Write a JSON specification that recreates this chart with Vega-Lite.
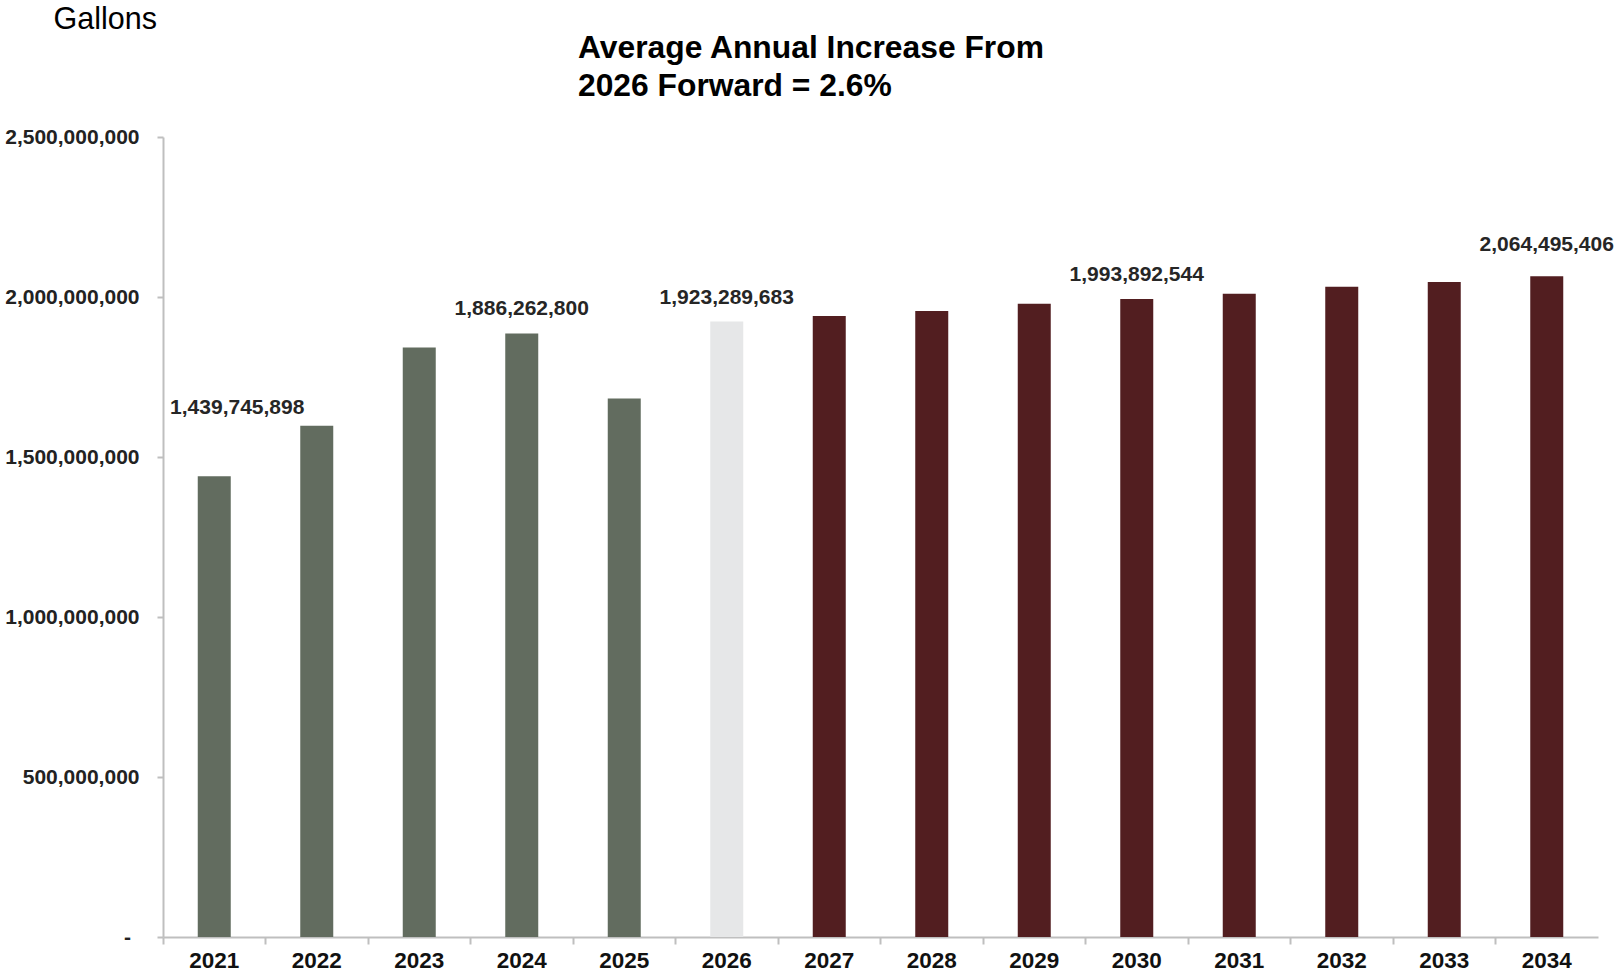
{
  "$schema": "https://vega.github.io/schema/vega-lite/v6.json",
  "width": 1435,
  "height": 800,
  "autosize": {"type": "none"},
  "padding": {"left": 163, "top": 137, "right": 20, "bottom": 36},
  "background": "white",
  "config": {"view": {"stroke": null}, "font": "Liberation Sans"},
  "title": {
    "text": ["Average Annual Increase From", "2026 Forward = 2.6%"],
    "anchor": "start",
    "frame": "group",
    "dx": 415,
    "fontSize": 31.8,
    "fontWeight": "bold",
    "color": "black",
    "lineHeight": 38,
    "offset": -99,
    "font": "Liberation Sans"
  },
  "data": {
    "values": [
      {"year": "2021", "gallons": 1439745898, "period": "Historical", "labeled": true},
      {"year": "2022", "gallons": 1598000000, "period": "Historical", "labeled": false},
      {"year": "2023", "gallons": 1842000000, "period": "Historical", "labeled": false},
      {"year": "2024", "gallons": 1886262800, "period": "Historical", "labeled": true},
      {"year": "2025", "gallons": 1683000000, "period": "Historical", "labeled": false},
      {"year": "2026", "gallons": 1923289683, "period": "Base", "labeled": true},
      {"year": "2027", "gallons": 1941000000, "period": "Forecast", "labeled": false},
      {"year": "2028", "gallons": 1956000000, "period": "Forecast", "labeled": false},
      {"year": "2029", "gallons": 1979000000, "period": "Forecast", "labeled": false},
      {"year": "2030", "gallons": 1993892544, "period": "Forecast", "labeled": true},
      {"year": "2031", "gallons": 2010000000, "period": "Forecast", "labeled": false},
      {"year": "2032", "gallons": 2032000000, "period": "Forecast", "labeled": false},
      {"year": "2033", "gallons": 2047000000, "period": "Forecast", "labeled": false},
      {"year": "2034", "gallons": 2064495406, "period": "Forecast", "labeled": true}
    ]
  },
  "encoding": {
    "x": {
      "field": "year",
      "type": "nominal",
      "scale": {"paddingInner": 0, "paddingOuter": 0},
      "axis": {
        "title": null,
        "labelAngle": 0,
        "bandPosition": 0,
        "domainColor": "#bfbfbf",
        "domainWidth": 2,
        "tickColor": "#bfbfbf",
        "tickWidth": 2,
        "tickSize": 7,
        "labelFont": "Liberation Sans",
        "labelFontSize": 22.5,
        "labelFontWeight": "bold",
        "labelColor": "#111111",
        "labelPadding": 5
      }
    },
    "y": {
      "field": "gallons",
      "type": "quantitative",
      "scale": {"domain": [0, 2500000000], "nice": false},
      "axis": {
        "values": [0, 500000000, 1000000000, 1500000000, 2000000000, 2500000000],
        "labelExpr": "datum.value == 0 ? '-\u2009\u2009\u200b' : format(datum.value, ',')",
        "grid": false,
        "domainColor": "#bfbfbf",
        "domainWidth": 2,
        "tickColor": "#bfbfbf",
        "tickWidth": 2,
        "tickSize": 6,
        "labelPadding": 18,
        "labelFontSize": 21,
        "labelFontWeight": "bold",
        "labelColor": "#222222",
        "title": "Gallons",
        "titleAngle": 0,
        "titleAlign": "left",
        "titleBaseline": "alphabetic",
        "titleX": -110,
        "titleY": -109,
        "titleFontSize": 30.5,
        "titleFontWeight": "normal",
        "titleColor": "black",
        "titleFont": "Liberation Sans"
      }
    }
  },
  "layer": [
    {
      "mark": {"type": "bar", "width": 33},
      "encoding": {
        "color": {
          "field": "period",
          "type": "nominal",
          "scale": {"domain": ["Historical", "Base", "Forecast"], "range": ["#626c5f", "#e6e7e8", "#521e20"]},
          "legend": null
        }
      }
    },
    {
      "transform": [{"filter": "datum.labeled && datum.year != '2021' && datum.year != '2034'"}],
      "mark": {"type": "text", "fontSize": 21, "fontWeight": "bold", "color": "#262626", "baseline": "middle", "dy": -24},
      "encoding": {"text": {"field": "gallons", "type": "quantitative", "format": ","}}
    },
    {
      "transform": [{"filter": "datum.year == '2021'"}],
      "mark": {"type": "text", "fontSize": 21, "fontWeight": "bold", "color": "#262626", "baseline": "middle", "dy": -68, "dx": 23},
      "encoding": {"text": {"field": "gallons", "type": "quantitative", "format": ","}}
    },
    {
      "transform": [{"filter": "datum.year == '2034'"}],
      "mark": {"type": "text", "fontSize": 21, "fontWeight": "bold", "color": "#262626", "baseline": "middle", "dy": -31},
      "encoding": {"text": {"field": "gallons", "type": "quantitative", "format": ","}}
    }
  ]
}
